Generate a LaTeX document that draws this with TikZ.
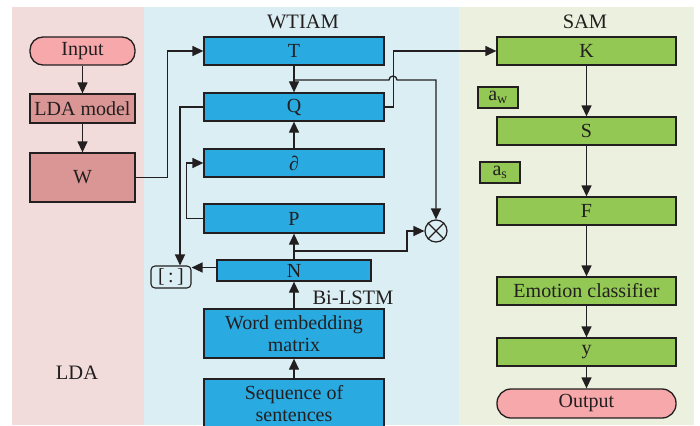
\documentclass[tikz,border=0pt]{standalone}
\usepackage{fontspec}
\setmainfont{Liberation Serif}
\usetikzlibrary{arrows.meta,calc}
\definecolor{ldabg}{HTML}{F2DCDB}
\definecolor{wtbg}{HTML}{DAEEF3}
\definecolor{sambg}{HTML}{EBF1DE}
\definecolor{pinkf}{HTML}{F6A8AB}
\definecolor{rosef}{HTML}{D99694}
\definecolor{bluef}{HTML}{29ABE2}
\definecolor{greenf}{HTML}{92C853}
\definecolor{edge}{HTML}{231F20}
\begin{document}
\begin{tikzpicture}[x=1pt,y=-1pt,
  every node/.style={font=\fontsize{20}{22}\selectfont, text=edge, inner sep=0pt},
  box/.style={draw=edge, line width=1.3pt, minimum width=#1, anchor=center, align=center},
  box/.default=180,
  ldabox/.style={box=105, fill=rosef},
  bluebox/.style={box=180, fill=bluef},
  greenbox/.style={box=179, fill=greenf},
  termbox/.style={box=#1, fill=pinkf, rounded corners=13pt},
  abox/.style={draw=edge, line width=1.1pt, fill=greenf, minimum width=40, minimum height=21},
  arr/.style={draw=edge, line width=1.3pt, -{Triangle[length=11pt,width=10pt]}},
  ln/.style={draw=edge, line width=1.2pt},
  lbl/.style={font=\fontsize{20.5}{22}\selectfont}
]
\useasboundingbox (0,0) rectangle (700,425);
\begin{scope}
\clip (0,0) rectangle (700,425);
% panels
\fill[ldabg] (12,7) rectangle (144,425);
\fill[wtbg] (144,7) rectangle (459,425);
\fill[sambg] (459,7) rectangle (694,425);
\node[lbl] (tw) at (303,22) {WTIAM};
\node[lbl] (ts) at (585,22) {SAM};
\node[lbl] (tl) at (77,373) {LDA};
\node[lbl] (tb) at (353,298) {Bi-LSTM};
% LDA column
\node[termbox=105, minimum height=28] (in) at (82.5,51) {Input};
\node[ldabox, minimum height=29] (lda) at (82.5,108.5) {LDA model};
\node[ldabox, minimum height=49] (W) at (82.5,177.5) {W};
% WTIAM column
\node[bluebox, minimum height=28] (T) at (294,51) {T};
\node[bluebox, minimum height=28] (Q) at (294,107) {Q};
\node[bluebox, minimum height=28] (d) at (294,163) {\raisebox{-5pt}{∂}};
\node[bluebox, minimum height=29] (P) at (294,218.5) {P};
\node[box=154, fill=bluef, minimum height=21] (N) at (294,270.5) {N};
\node[draw=edge, line width=1.1pt, rounded corners=4pt, minimum width=40, minimum height=22] (br) at (171,277) {[\,:\,]};
\node[bluebox, minimum height=49] (wem) at (294,333.5) {Word embedding\\matrix};
\node[bluebox, minimum height=49] (seq) at (294,403.5) {Sequence of\\sentences};
\node[draw=edge, line width=1.2pt, circle, minimum size=22] (ox) at (436,231) {};
\draw[ln] (ox.45) -- (ox.225) (ox.135) -- (ox.315);
% SAM column
\node[greenbox, minimum height=28] (K) at (586.5,51) {K};
\node[abox] (aw) at (498,97.5) {a\textsubscript{w}};
\node[greenbox, minimum height=28] (S) at (586.5,131) {S};
\node[abox] (as) at (500,172.5) {a\textsubscript{s}};
\node[greenbox, minimum height=28] (F) at (586.5,211) {F};
\node[greenbox, minimum height=28] (emo) at (586.5,291) {Emotion classifier};
\node[greenbox, minimum height=28] (y) at (586.5,352) {y};
\node[termbox=179, minimum height=29, rounded corners=14pt] (out) at (586.5,403.5) {Output};
% connectors
\draw[arr] (in) -- (lda);
\draw[arr] (lda) -- (W);
\draw[arr] (W.east) -- ++(32,0) |- (T.west);
\draw[arr] (T) -- (Q);
\coordinate (b1) at (294,80);
\draw[arr] (b1) -- (389,80) arc[start angle=180, end angle=360, radius=4] -- (ox.north |- b1) -- (ox.north);
\draw[arr] (Q.east) -- ++(9,0) |- (K.west);
\draw[arr] (Q.west) -| ([xshift=9pt]br.north);
\draw[arr] (d) -- (Q);
\draw[arr] (P.west) -- ++(-17,0) |- (d.west);
\draw[arr] (N) -- (P);
\coordinate (b2) at (294,251);
\draw[arr] (b2) -- (407,251) |- (ox.west);
\coordinate (nl) at ($(N.west)+(0,-3)$);
\draw[arr] (nl) -- (nl -| br.east);
\draw[arr] (wem) -- (N);
\draw[arr] (seq) -- (wem);
\draw[arr] (K) -- (S);
\draw[arr] (S) -- (F);
\draw[arr] (F) -- (emo);
\draw[arr] (emo) -- (y);
\draw[arr] (y) -- (out);
\end{scope}
\end{tikzpicture}
\end{document}
